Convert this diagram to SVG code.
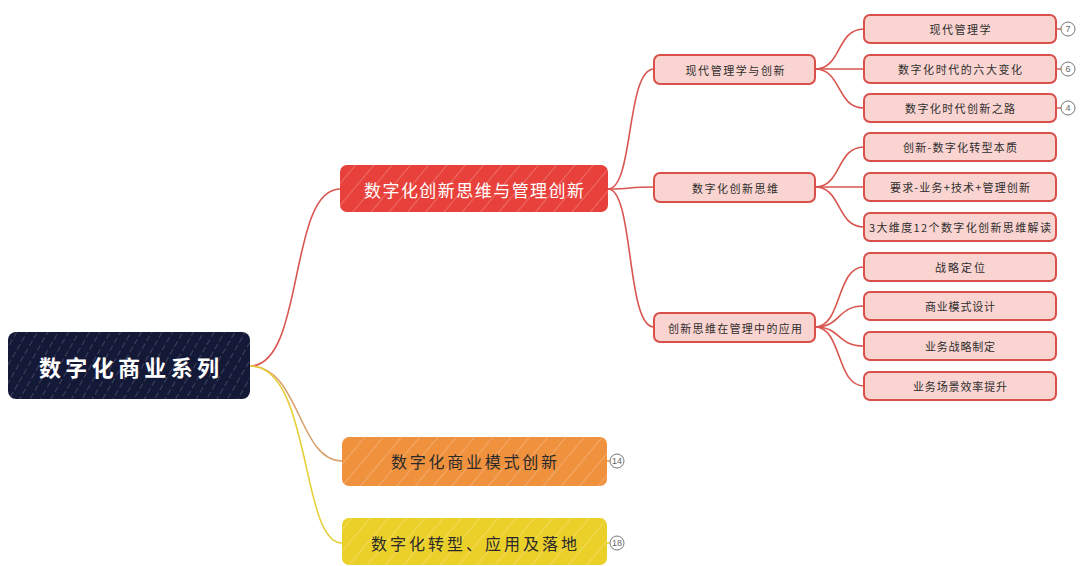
<svg xmlns="http://www.w3.org/2000/svg" width="1082" height="566" viewBox="0 0 1082 566">
<defs>
<pattern id="hatch" patternUnits="userSpaceOnUse" width="9" height="9" patternTransform="rotate(30)">
<line x1="0" y1="0" x2="0" y2="9" stroke="#ffffff" stroke-width="1" stroke-opacity="0.35" stroke-dasharray="6 3"/>
</pattern>
<pattern id="hatchL" patternUnits="userSpaceOnUse" width="14" height="14" patternTransform="rotate(40)">
<line x1="0" y1="0" x2="0" y2="14" stroke="#ffffff" stroke-width="1" stroke-opacity="0.45"/>
</pattern>
</defs>
<style>
.t{font-family:"Noto Sans CJK SC","Noto Sans",sans-serif;text-anchor:middle;dominant-baseline:central}
.root{fill:#141937}
.l3,.l2{fill:#fad4d1;stroke:#d9504a;stroke-width:2}
.tl{font-size:11px;fill:#2e2e2e}
.cr{fill:none;stroke:#d9554f;stroke-width:1.6}
.badge{fill:#fff;stroke:#777;stroke-width:1}
.bt{font-family:"Liberation Sans",sans-serif;font-size:9px;fill:#666;text-anchor:middle;dominant-baseline:central}
</style>
<rect width="1082" height="566" fill="#ffffff"/>
<g id="connectors">
<path class="cr" d="M250,366 C305,366 288,189 340,189"/>
<path d="M250,366 C300,366 298,461 342,461" fill="none" stroke="#d9a36e" stroke-width="1.6"/>
<path d="M250,366 C312,366 300,543 342,543" fill="none" stroke="#e6cf3a" stroke-width="1.6"/>
<path class="cr" d="M608,189 C634,189 626,69 654,69"/>
<path class="cr" d="M608,189 C634,189 626,187 654,187"/>
<path class="cr" d="M608,189 C634,189 626,327 654,327"/>
<path class="cr" d="M815,69 C842,69 836,29 864,29"/>
<path class="cr" d="M815,69 C842,69 836,69 864,69"/>
<path class="cr" d="M815,69 C842,69 836,108 864,108"/>
<path class="cr" d="M815,187 C842,187 836,147 864,147"/>
<path class="cr" d="M815,187 C842,187 836,187 864,187"/>
<path class="cr" d="M815,187 C842,187 836,227 864,227"/>
<path class="cr" d="M815,327 C842,327 836,267 864,267"/>
<path class="cr" d="M815,327 C842,327 836,306 864,306"/>
<path class="cr" d="M815,327 C842,327 836,346 864,346"/>
<path class="cr" d="M815,327 C842,327 836,386 864,386"/>
<line x1="1056" y1="29" x2="1061" y2="29" stroke="#d9554f" stroke-width="1.4"/>
<line x1="1056" y1="69" x2="1061" y2="69" stroke="#d9554f" stroke-width="1.4"/>
<line x1="1056" y1="108" x2="1061" y2="108" stroke="#d9554f" stroke-width="1.4"/>
<line x1="607" y1="461" x2="610" y2="461" stroke="#f0913d" stroke-width="1.4"/>
<line x1="607" y1="543" x2="610" y2="543" stroke="#ecd02a" stroke-width="1.4"/>
</g>
<g id="root">
<rect class="root" x="8" y="332" width="242" height="67" rx="8"/>
<rect x="8" y="332" width="242" height="67" rx="8" fill="url(#hatch)"/>
<text class="t" x="129" y="366" font-size="22" font-weight="bold" fill="#ffffff" textLength="180" lengthAdjust="spacing">数字化商业系列</text>
</g>
<g id="n-red">
<rect x="340" y="165" width="268" height="47" rx="7" fill="#e8413b"/>
<rect x="340" y="165" width="268" height="47" rx="7" fill="url(#hatchL)"/>
<text class="t" x="474" y="189" font-size="17" fill="#ffffff" textLength="220" lengthAdjust="spacing">数字化创新思维与管理创新</text>
</g>
<g id="n-orange">
<rect x="342" y="437" width="265" height="49" rx="7" fill="#f0913d"/>
<rect x="342" y="437" width="265" height="49" rx="7" fill="url(#hatchL)"/>
<text class="t" x="474" y="461" font-size="16" fill="#2a2a2a" textLength="166" lengthAdjust="spacing">数字化商业模式创新</text>
<circle class="badge" cx="617" cy="461" r="7" stroke="#c9b98a"/>
<text class="bt" x="617" y="461">14</text>
</g>
<g id="n-yellow">
<rect x="342" y="518" width="265" height="47" rx="7" fill="#ecd02a"/>
<rect x="342" y="518" width="265" height="47" rx="7" fill="url(#hatchL)"/>
<text class="t" x="474" y="543" font-size="16" fill="#2a2a2a" textLength="206" lengthAdjust="spacing">数字化转型、应用及落地</text>
<circle class="badge" cx="617" cy="543" r="7" stroke="#ddd09a"/>
<text class="bt" x="617" y="543">18</text>
</g>
<g id="n-a">
<rect class="l2" x="654" y="55" width="161" height="29" rx="6"/>
<text class="t tl" x="735" y="69.5" textLength="99" lengthAdjust="spacing">现代管理学与创新</text>
</g>
<g id="n-b">
<rect class="l2" x="654" y="173" width="161" height="29" rx="6"/>
<text class="t tl" x="735" y="187.5" textLength="86" lengthAdjust="spacing">数字化创新思维</text>
</g>
<g id="n-c">
<rect class="l2" x="654" y="313" width="161" height="29" rx="6"/>
<text class="t tl" x="735" y="327.5" textLength="134" lengthAdjust="spacing">创新思维在管理中的应用</text>
</g>
<g id="n-a1">
<rect class="l3" x="864" y="15" width="192" height="28" rx="6"/>
<text class="t tl" x="960" y="29" textLength="61" lengthAdjust="spacing">现代管理学</text>
<circle class="badge" cx="1068" cy="29" r="7"/>
<text class="bt" x="1068" y="29">7</text>
</g>
<g id="n-a2">
<rect class="l3" x="864" y="55" width="192" height="28" rx="6"/>
<text class="t tl" x="960" y="69" textLength="124" lengthAdjust="spacing">数字化时代的六大变化</text>
<circle class="badge" cx="1068" cy="69" r="7"/>
<text class="bt" x="1068" y="69">6</text>
</g>
<g id="n-a3">
<rect class="l3" x="864" y="94" width="192" height="28" rx="6"/>
<text class="t tl" x="960" y="108" textLength="110" lengthAdjust="spacing">数字化时代创新之路</text>
<circle class="badge" cx="1068" cy="108" r="7"/>
<text class="bt" x="1068" y="108">4</text>
</g>
<g id="n-b1">
<rect class="l3" x="864" y="133" width="192" height="28" rx="6"/>
<text class="t tl" x="960" y="147" textLength="114" lengthAdjust="spacing">创新-数字化转型本质</text>
</g>
<g id="n-b2">
<rect class="l3" x="864" y="173" width="192" height="28" rx="6"/>
<text class="t tl" x="960" y="187" textLength="140" lengthAdjust="spacing">要求-业务+技术+管理创新</text>
</g>
<g id="n-b3">
<rect class="l3" x="864" y="213" width="192" height="28" rx="6"/>
<text class="t tl" x="960" y="227" textLength="182" lengthAdjust="spacing">3大维度12个数字化创新思维解读</text>
</g>
<g id="n-c1">
<rect class="l3" x="864" y="253" width="192" height="28" rx="6"/>
<text class="t tl" x="960" y="267" textLength="50" lengthAdjust="spacing">战略定位</text>
</g>
<g id="n-c2">
<rect class="l3" x="864" y="292" width="192" height="28" rx="6"/>
<text class="t tl" x="960" y="306" textLength="70" lengthAdjust="spacing">商业模式设计</text>
</g>
<g id="n-c3">
<rect class="l3" x="864" y="332" width="192" height="28" rx="6"/>
<text class="t tl" x="960" y="346" textLength="70" lengthAdjust="spacing">业务战略制定</text>
</g>
<g id="n-c4">
<rect class="l3" x="864" y="372" width="192" height="28" rx="6"/>
<text class="t tl" x="960" y="386" textLength="94" lengthAdjust="spacing">业务场景效率提升</text>
</g>
</svg>
